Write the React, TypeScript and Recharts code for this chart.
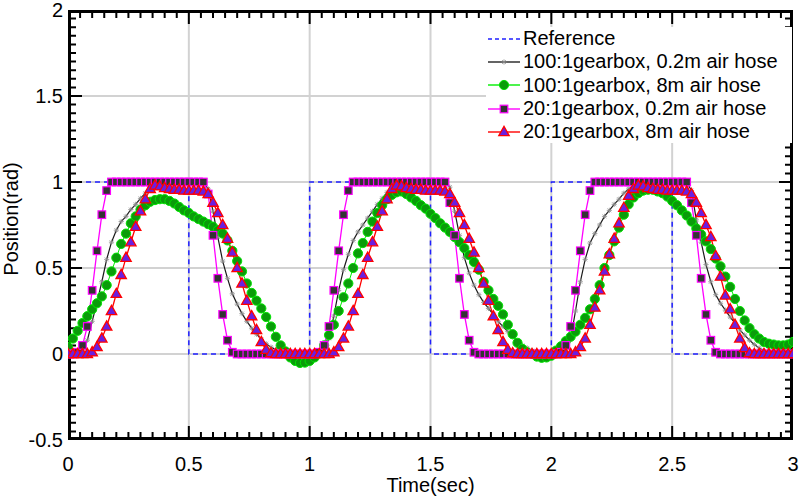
import React from "react";
import { LineChart, Line, XAxis, YAxis, CartesianGrid, Legend, Label } from "recharts";

// sample instants, 0.02 s apart
const times = Array.from({ length: 151 }, (_, i) => Math.round(i * 2) / 100);

const refTimes = [0, 0.5, 1, 1.5, 2, 2.5, 3];
const refValues = [1, 0, 1, 0, 1, 0, 1];

// 100:1 gearbox, 0.2m air hose
const gear100Short = [
  0, 0, 0.01, 0.03, 0.08, 0.19, 0.3, 0.42, 0.55, 0.65,
  0.72, 0.77, 0.8, 0.84, 0.87, 0.905, 0.935, 0.96, 0.98, 0.995,
  1, 1, 1.005, 1.005, 1.005, 1.005, 1.005, 1, 1, 0.96,
  0.83, 0.68, 0.54, 0.44, 0.35, 0.29, 0.235, 0.19, 0.15, 0.115,
  0.085, 0.06, 0.04, 0.025, 0.012, 0.005, 0, 0, 0, 0,
  0, 0, 0.01, 0.03, 0.09, 0.22, 0.37, 0.49, 0.58, 0.66,
  0.71, 0.75, 0.79, 0.83, 0.87, 0.905, 0.94, 0.965, 0.985, 0.995,
  1, 1, 1.005, 1.005, 1.005, 1.005, 1.005, 1, 1, 0.97,
  0.83, 0.69, 0.56, 0.47, 0.4, 0.345, 0.3, 0.265, 0.23, 0.19,
  0.16, 0.13, 0.1, 0.075, 0.05, 0.035, 0.02, 0.01, 0.005, 0,
  0, 0, 0.01, 0.03, 0.09, 0.25, 0.42, 0.55, 0.645, 0.7,
  0.75, 0.8, 0.835, 0.87, 0.9, 0.935, 0.96, 0.98, 0.99, 0.995,
  1, 1, 1.005, 1.005, 1.005, 1.005, 1.005, 1, 1, 0.95,
  0.78, 0.65, 0.52, 0.42, 0.345, 0.295, 0.255, 0.215, 0.18, 0.14,
  0.11, 0.08, 0.055, 0.035, 0.02, 0.01, 0.005, 0, 0, 0,
  0,
];

// 100:1 gearbox, 8m air hose
const gear100Long = [
  0.04, 0.09, 0.135, 0.18, 0.22, 0.26, 0.295, 0.335, 0.4, 0.48,
  0.56, 0.64, 0.7, 0.76, 0.8, 0.84, 0.865, 0.885, 0.895, 0.9,
  0.9, 0.89, 0.875, 0.855, 0.835, 0.82, 0.8, 0.785, 0.77, 0.755,
  0.74, 0.72, 0.7, 0.66, 0.6, 0.54, 0.48, 0.41, 0.355, 0.31,
  0.265, 0.215, 0.16, 0.1, 0.05, 0.015, -0.02, -0.04, -0.052, -0.05,
  -0.04, -0.02, 0.005, 0.05, 0.11, 0.17, 0.25, 0.33, 0.41, 0.5,
  0.585, 0.645, 0.71, 0.77, 0.82, 0.865, 0.9, 0.925, 0.94, 0.945,
  0.93, 0.91, 0.89, 0.865, 0.845, 0.815, 0.79, 0.76, 0.735, 0.71,
  0.68, 0.65, 0.615, 0.575, 0.535, 0.49, 0.42, 0.37, 0.32, 0.28,
  0.23, 0.17, 0.115, 0.065, 0.03, 0.01, 0, -0.015, -0.022, -0.02,
  -0.01, 0.02, 0.045, 0.075, 0.1, 0.13, 0.17, 0.21, 0.26, 0.32,
  0.4, 0.5, 0.575, 0.655, 0.735, 0.81, 0.87, 0.91, 0.935, 0.95,
  0.955, 0.955, 0.945, 0.935, 0.915, 0.89, 0.865, 0.835, 0.805, 0.77,
  0.73, 0.695, 0.655, 0.61, 0.555, 0.51, 0.45, 0.39, 0.32, 0.25,
  0.195, 0.15, 0.115, 0.09, 0.07, 0.06, 0.055, 0.05, 0.05, 0.055,
  0.07,
];

// 20:1 gearbox, 0.2m air hose
const gear20Short = [
  0, 0, 0.01, 0.05, 0.16, 0.37, 0.6, 0.81, 0.95, 1,
  1, 1, 1, 1, 1, 1, 1, 1, 1, 1,
  1, 1, 1, 1, 1, 1, 1, 1, 1, 0.93,
  0.69, 0.44, 0.23, 0.08, 0.01, 0, 0, 0, 0, 0,
  0, 0, 0, 0, 0, 0, 0, 0, 0, 0,
  0, 0, 0.01, 0.05, 0.16, 0.37, 0.6, 0.81, 0.95, 1,
  1, 1, 1, 1, 1, 1, 1, 1, 1, 1,
  1, 1, 1, 1, 1, 1, 1, 1, 1, 0.88,
  0.69, 0.44, 0.23, 0.08, 0.01, 0, 0, 0, 0, 0,
  0, 0, 0, 0, 0, 0, 0, 0, 0, 0,
  0, 0, 0.01, 0.05, 0.16, 0.37, 0.6, 0.81, 0.95, 1,
  1, 1, 1, 1, 1, 1, 1, 1, 1, 1,
  1, 1, 1, 1, 1, 1, 1, 1, 1, 0.88,
  0.69, 0.44, 0.23, 0.08, 0.01, 0, 0, 0, 0, 0,
  0, 0, 0, 0, 0, 0, 0, 0, 0, 0,
  0,
];

// 20:1 gearbox, 8m air hose
const gear20Long = [
  0, 0, 0, 0, 0, 0.01, 0.04, 0.09, 0.16, 0.25,
  0.35, 0.46, 0.56, 0.65, 0.74, 0.83, 0.9, 0.96, 0.98, 0.975,
  0.965, 0.96, 0.955, 0.955, 0.95, 0.95, 0.95, 0.95, 0.945, 0.93,
  0.88, 0.82, 0.75, 0.67, 0.59, 0.5, 0.41, 0.31, 0.22, 0.14,
  0.07, 0.025, 0.005, 0, 0, 0, 0, 0, 0, 0,
  0, 0, 0, 0, 0, 0.01, 0.04, 0.09, 0.16, 0.25,
  0.35, 0.46, 0.56, 0.65, 0.74, 0.83, 0.9, 0.96, 0.98, 0.975,
  0.965, 0.96, 0.955, 0.955, 0.95, 0.95, 0.95, 0.95, 0.945, 0.93,
  0.88, 0.82, 0.75, 0.67, 0.59, 0.5, 0.41, 0.31, 0.22, 0.14,
  0.07, 0.025, 0.005, 0, 0, 0, 0, 0, 0, 0,
  0, 0, 0, 0, 0, 0.01, 0.04, 0.09, 0.17, 0.27,
  0.37, 0.48, 0.58, 0.67, 0.76, 0.85, 0.92, 0.96, 0.98, 0.975,
  0.965, 0.96, 0.955, 0.955, 0.95, 0.95, 0.95, 0.95, 0.945, 0.93,
  0.88, 0.82, 0.75, 0.68, 0.57, 0.45, 0.34, 0.26, 0.17, 0.09,
  0.035, 0.005, 0, 0, 0, 0, 0, 0, 0, 0,
  0,
];

const seriesNames = [
  "Reference",
  "100:1gearbox, 0.2m air hose",
  "100:1gearbox, 8m air hose",
  "20:1gearbox, 0.2m air hose",
  "20:1gearbox, 8m air hose",
];

const X_DOMAIN = [0, 3];
const Y_DOMAIN = [-0.5, 2];
const xMajorTicks = [0, 0.5, 1, 1.5, 2, 2.5, 3];
const yMajorTicks = [-0.5, 0, 0.5, 1, 1.5, 2];
const xAllTicks = Array.from({ length: 61 }, (_, i) => Math.round(i * 5) / 100);
const yAllTicks = Array.from({ length: 51 }, (_, i) => Math.round(-50 + i * 5) / 100);

const rows = times.map((t, i) => ({
  t,
  g100s: gear100Short[i],
  g100l: gear100Long[i],
  g20s: gear20Short[i],
  g20l: gear20Long[i],
}));
const refRows = refTimes.map((t, i) => ({ t, ref: refValues[i] }));

const FONT = "'Liberation Sans', Arial, sans-serif";
const isOn = (v: number, list: number[]) => list.some((m) => Math.abs(m - v) < 1e-6);
const fmt = (v: number) => String(Number(v.toFixed(2)));

// MATLAB style box: inward ticks, drawn as broken segments (null ends a segment)
const PLOT_W = 725;
const PLOT_H = 430;
const perX = (X_DOMAIN[1] - X_DOMAIN[0]) / PLOT_W;
const perY = (Y_DOMAIN[1] - Y_DOMAIN[0]) / PLOT_H;
const MAJOR = 14;
const MINOR = 8;
const tickRows: { t: number; k: number | null }[] = [];
xAllTicks.forEach((v) => {
  const len = (isOn(v, xMajorTicks) ? MAJOR : MINOR) * perY;
  tickRows.push({ t: v, k: Y_DOMAIN[0] }, { t: v, k: Y_DOMAIN[0] + len }, { t: v, k: null });
  tickRows.push({ t: v, k: Y_DOMAIN[1] }, { t: v, k: Y_DOMAIN[1] - len }, { t: v, k: null });
});
yAllTicks.forEach((v) => {
  const len = (isOn(v, yMajorTicks) ? MAJOR : MINOR) * perX;
  tickRows.push({ t: X_DOMAIN[0], k: v }, { t: X_DOMAIN[0] + len, k: v }, { t: X_DOMAIN[0], k: null });
  tickRows.push({ t: X_DOMAIN[1], k: v }, { t: X_DOMAIN[1] - len, k: v }, { t: X_DOMAIN[1], k: null });
});
const frameRows = [
  { t: X_DOMAIN[0], k: Y_DOMAIN[0] },
  { t: X_DOMAIN[1], k: Y_DOMAIN[0] },
  { t: X_DOMAIN[1], k: Y_DOMAIN[1] },
  { t: X_DOMAIN[0], k: Y_DOMAIN[1] },
  { t: X_DOMAIN[0], k: Y_DOMAIN[0] },
];

const BottomLabel = (props: any) => {
  const { x, y, payload } = props;
  return (
    <text x={x} y={y + 31} textAnchor="middle" fontSize={20} fontFamily={FONT} fill="#000">
      {fmt(payload.value)}
    </text>
  );
};

const LeftLabel = (props: any) => {
  const { x, y, payload } = props;
  return (
    <text x={x - 5} y={y + 7} textAnchor="end" fontSize={20} fontFamily={FONT} fill="#000">
      {fmt(payload.value)}
    </text>
  );
};

// grid only at the major ticks, placed through the axis scale
const gridAt = (axis: any, values: number[]) => {
  const s = axis && axis.scale;
  if (!s) return [];
  const f = typeof s === "function" ? s : typeof s.map === "function" ? (v: number) => s.map(v) : null;
  if (!f) return [];
  return values.map((v) => f(v)).filter((p) => Number.isFinite(p));
};

// markers
const Star = ({ cx, cy }: { cx: number; cy: number }) => (
  <g stroke="#8a8a8a" strokeWidth={0.8}>
    <line x1={cx - 2.6} x2={cx + 2.6} y1={cy} y2={cy} />
    <line x1={cx} x2={cx} y1={cy - 2.6} y2={cy + 2.6} />
    <line x1={cx - 1.9} x2={cx + 1.9} y1={cy - 1.9} y2={cy + 1.9} />
    <line x1={cx - 1.9} x2={cx + 1.9} y1={cy + 1.9} y2={cy - 1.9} />
  </g>
);
const Circle = ({ cx, cy }: { cx: number; cy: number }) => (
  <circle cx={cx} cy={cy} r={4.6} fill="#0a9c0a" stroke="#00e400" strokeWidth={1} />
);
const Square = ({ cx, cy }: { cx: number; cy: number }) => (
  <rect x={cx - 3.8} y={cy - 3.8} width={7.6} height={7.6} fill="#333" stroke="#ff00ff" strokeWidth={1.2} />
);
const Triangle = ({ cx, cy }: { cx: number; cy: number }) => (
  <polygon
    points={`${cx},${cy - 5.6} ${cx + 5.2},${cy + 3.6} ${cx - 5.2},${cy + 3.6}`}
    fill="#6a1fe0"
    stroke="#ff0000"
    strokeWidth={1.3}
  />
);

const dotWith = (Marker: any, prefix: string) => (p: any) =>
  <Marker key={`${prefix}-${p.index}`} cx={p.cx} cy={p.cy} />;

const legendMarkers = [
  { color: "#2020ff", dash: "4 3", Marker: null },
  { color: "#222", dash: undefined, Marker: Star },
  { color: "#00ee00", dash: undefined, Marker: Circle },
  { color: "#ff00ff", dash: undefined, Marker: Square },
  { color: "#ff0000", dash: undefined, Marker: Triangle },
];

const ChartLegend = () => (
  <div style={{ background: "#fff", fontFamily: FONT, fontSize: 20, color: "#000", paddingLeft: 2 }}>
    {seriesNames.map((name, i) => {
      const { color, dash, Marker } = legendMarkers[i];
      return (
        <div key={name} style={{ display: "flex", alignItems: "center", height: 23.3, whiteSpace: "nowrap" }}>
          <svg width={32} height={22} style={{ marginRight: 3 }}>
            <line x1={0} x2={32} y1={11} y2={11} stroke={color} strokeWidth={1.4} strokeDasharray={dash} />
            {Marker && <Marker cx={16} cy={11} />}
          </svg>
          <span>{name}</span>
        </div>
      );
    })}
  </div>
);

const YTitle = (props: any) => {
  const vb = props.viewBox || { y: 10, height: 430 };
  const cx = 11;
  const cy = vb.y + vb.height / 2 - 6;
  return (
    <text
      x={cx}
      y={cy}
      transform={`rotate(-90, ${cx}, ${cy})`}
      textAnchor="middle"
      dominantBaseline="central"
      fontSize={20}
      fontFamily={FONT}
      fill="#000"
    >
      Position(rad)
    </text>
  );
};

export default function App() {
  return (
    <div style={{ position: "absolute", left: 0, top: 0, background: "#fff" }}>
      <LineChart width={800} height={498} data={rows} margin={{ top: 10, right: 7, bottom: 0, left: 0 }}>
        <CartesianGrid
          stroke="#d2d2d2"
          strokeWidth={2}
          verticalCoordinatesGenerator={({ xAxis }: any) => gridAt(xAxis, xMajorTicks.slice(1, -1))}
          horizontalCoordinatesGenerator={({ yAxis }: any) => gridAt(yAxis, yMajorTicks.slice(1, -1))}
        />
        <XAxis
          dataKey="t"
          type="number"
          domain={X_DOMAIN}
          allowDataOverflow
          ticks={xMajorTicks}
          interval={0}
          height={58}
          tickSize={0}
          tickMargin={0}
          tickLine={false}
          tick={BottomLabel}
          axisLine={false}
        >
          <Label value="Time(sec)" position="insideBottom" offset={6} fontSize={20} fontFamily={FONT} fill="#000" />
        </XAxis>
        <YAxis
          type="number"
          domain={Y_DOMAIN}
          allowDataOverflow
          ticks={yMajorTicks}
          interval={0}
          width={68}
          tickSize={0}
          tickMargin={0}
          tickLine={false}
          tick={LeftLabel}
          axisLine={false}
        >
          <Label content={YTitle} />
        </YAxis>
        <Line
          data={refRows}
          dataKey="ref"
          type="stepAfter"
          stroke="#2020ff"
          strokeWidth={1.5}
          strokeDasharray="5 4"
          dot={false}
          isAnimationActive={false}
        />
        <Line dataKey="g100s" stroke="#1a1a1a" strokeWidth={1.2} dot={dotWith(Star, "s")} isAnimationActive={false} />
        <Line dataKey="g100l" stroke="#00ee00" strokeWidth={1} dot={dotWith(Circle, "c")} isAnimationActive={false} />
        <Line dataKey="g20s" stroke="#ff00ff" strokeWidth={1.3} dot={dotWith(Square, "q")} isAnimationActive={false} />
        <Line dataKey="g20l" stroke="#ff0000" strokeWidth={1.3} dot={dotWith(Triangle, "t")} isAnimationActive={false} />
        {/* axis box and inward ticks */}
        <Line
          data={tickRows}
          dataKey="k"
          stroke="#000"
          strokeWidth={2}
          dot={false}
          activeDot={false}
          legendType="none"
          isAnimationActive={false}
        />
        <Line
          data={frameRows}
          dataKey="k"
          stroke="#000"
          strokeWidth={6}
          dot={false}
          activeDot={false}
          legendType="none"
          isAnimationActive={false}
        />
        <Legend
          layout="vertical"
          align="center"
          verticalAlign="middle"
          content={ChartLegend}
          wrapperStyle={{ left: 486, top: 27, width: 306 }}
        />
      </LineChart>
    </div>
  );
}
